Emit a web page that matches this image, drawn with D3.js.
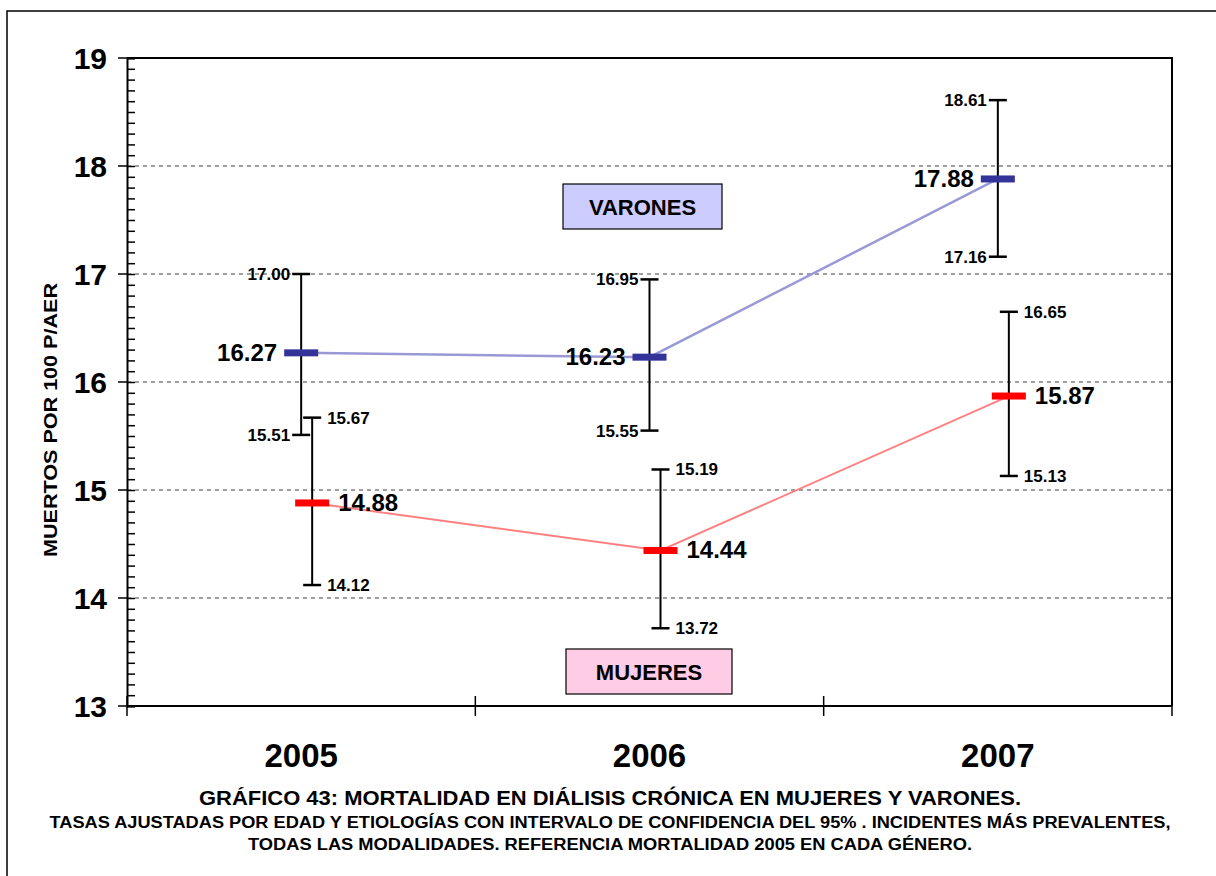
<!DOCTYPE html>
<html>
<head>
<meta charset="utf-8">
<script src="https://cdn.jsdelivr.net/npm/d3@7"></script>
<style>
  body { margin: 0; background: #fff; }
  text { font-family: "Liberation Sans", Arial, sans-serif; font-weight: bold; }
</style>
</head>
<body>
<div id="chart"></div>
<script>
const years = ['2005', '2006', '2007']
const varones = [16.27, 16.23, 17.88]
const varonesLow = [15.51, 15.55, 17.16]
const varonesHigh = [17.00, 16.95, 18.61]
const mujeres = [14.88, 14.44, 15.87]
const mujeresLow = [14.12, 13.72, 15.13]
const mujeresHigh = [15.67, 15.19, 16.65]
const yTicks = [13, 14, 15, 16, 17, 18, 19]
const titleLines = [
  'GRÁFICO 43: MORTALIDAD EN DIÁLISIS CRÓNICA EN MUJERES Y VARONES.',
  'TASAS AJUSTADAS POR EDAD Y ETIOLOGÍAS  CON INTERVALO DE CONFIDENCIA DEL 95% . INCIDENTES MÁS PREVALENTES,',
  'TODAS LAS MODALIDADES. REFERENCIA MORTALIDAD 2005 EN CADA GÉNERO.'
]

const W = 1216, H = 876
const plot = {left: 127, right: 1172, top: 58, bottom: 706}

const svg = d3.select('#chart').append('svg')
  .attr('width', W)
  .attr('height', H)

// outer frame
svg.append('rect')
  .attr('x', 7).attr('y', 11)
  .attr('width', 1240).attr('height', 900)
  .attr('fill', 'none')
  .attr('stroke', '#000')
  .attr('stroke-width', 1.5)

const x = d3.scaleBand().domain(years).range([plot.left, plot.right]).padding(0)
const y = d3.scaleLinear().domain([13, 19]).range([plot.bottom, plot.top])
const cx = d => x(d) + x.bandwidth() / 2
const offM = 11

// gridlines
svg.append('g')
  .selectAll('line')
  .data(yTicks.slice(1, -1))
  .enter()
  .append('line')
  .attr('x1', plot.left).attr('x2', plot.right)
  .attr('y1', d => y(d)).attr('y2', d => y(d))
  .attr('stroke', '#808080')
  .attr('stroke-width', 1.5)
  .attr('stroke-dasharray', '4,4')

// plot border top/right
svg.append('path')
  .attr('d', `M${plot.left},${plot.top}H${plot.right}V${plot.bottom}`)
  .attr('fill', 'none')
  .attr('stroke', '#000')
  .attr('stroke-width', 2)

// y axis
const yAxis = svg.append('g').attr('transform', `translate(${plot.left},0)`)
yAxis.call(d3.axisRight(y).ticks(60).tickSize(8).tickFormat(''))
yAxis.select('.domain').attr('stroke-width', 2)
yAxis.selectAll('.tick line').attr('stroke-width', 1.5)
yAxis.append('g')
  .selectAll('line')
  .data(yTicks)
  .enter()
  .append('line')
  .attr('x1', -9).attr('x2', 0)
  .attr('y1', d => y(d)).attr('y2', d => y(d))
  .attr('stroke', '#000')
  .attr('stroke-width', 1.5)
svg.append('g')
  .selectAll('text')
  .data(yTicks)
  .enter()
  .append('text')
  .attr('x', 107)
  .attr('y', d => y(d) + 11)
  .attr('text-anchor', 'end')
  .style('font-size', '30px')
  .text(d => d)

// x axis
svg.append('line')
  .attr('x1', plot.left).attr('x2', plot.right)
  .attr('y1', plot.bottom).attr('y2', plot.bottom)
  .attr('stroke', '#000').attr('stroke-width', 2)
svg.append('g')
  .selectAll('line')
  .data(years.map(d => x(d)).concat([plot.right]))
  .enter()
  .append('line')
  .attr('x1', d => d).attr('x2', d => d)
  .attr('y1', plot.bottom - 10).attr('y2', plot.bottom + 10)
  .attr('stroke', '#000').attr('stroke-width', 1.5)
svg.append('g')
  .selectAll('text')
  .data(years)
  .enter()
  .append('text')
  .attr('x', d => cx(d))
  .attr('y', 767)
  .attr('text-anchor', 'middle')
  .style('font-size', '33px')
  .text(d => d)

// y label
svg.append('text')
  .attr('transform', 'translate(57,420) rotate(-90)')
  .attr('text-anchor', 'middle')
  .attr('textLength', 274)
  .attr('lengthAdjust', 'spacingAndGlyphs')
  .style('font-size', '18px')
  .text('MUERTOS POR 100 P/AER')

// series boxes
const boxes = [
  {label: 'VARONES', x: 563, y: 184, w: 159, h: 45, fill: '#ccccff'},
  {label: 'MUJERES', x: 566, y: 649, w: 166, h: 45, fill: '#ffcce5'}
]
boxes.forEach(b => {
  svg.append('rect')
    .attr('x', b.x).attr('y', b.y).attr('width', b.w).attr('height', b.h)
    .attr('fill', b.fill).attr('stroke', '#000').attr('stroke-width', 1.2)
  svg.append('text')
    .attr('x', b.x + b.w / 2).attr('y', b.y + b.h / 2 + 8)
    .attr('text-anchor', 'middle')
    .style('font-size', '22px')
    .text(b.label)
})

// series
const series = [
  {vals: varones, low: varonesLow, high: varonesHigh, off: 0, line: '#9999d6', lw: 2.5, mark: '#333399', side: -1},
  {vals: mujeres, low: mujeresLow, high: mujeresHigh, off: offM, line: '#ff8080', lw: 2, mark: '#ff0000', side: 1}
]

series.forEach(s => {
  const pts = years.map((d, i) => ({x: cx(d) + s.off, v: s.vals[i], lo: s.low[i], hi: s.high[i]}))

  svg.append('path')
    .datum(pts)
    .attr('d', d3.line().x(d => d.x).y(d => y(d.v)))
    .attr('fill', 'none')
    .attr('stroke', s.line)
    .attr('stroke-width', s.lw)

  const g = svg.append('g')
  g.selectAll('line.v')
    .data(pts).enter().append('line')
    .attr('x1', d => d.x).attr('x2', d => d.x)
    .attr('y1', d => y(d.lo)).attr('y2', d => y(d.hi))
    .attr('stroke', '#000').attr('stroke-width', 2)
  ;['lo', 'hi'].forEach(k => {
    g.selectAll('line.' + k)
      .data(pts).enter().append('line')
      .attr('x1', d => d.x - 9).attr('x2', d => d.x + 9)
      .attr('y1', d => y(d[k])).attr('y2', d => y(d[k]))
      .attr('stroke', '#000').attr('stroke-width', 2.5)
    g.selectAll('text.' + k)
      .data(pts).enter().append('text')
      .attr('x', d => d.x + (s.side < 0 ? -11 : 15))
      .attr('y', d => y(d[k]) + 6)
      .attr('text-anchor', s.side < 0 ? 'end' : 'start')
      .style('font-size', '17px')
      .text(d => d[k].toFixed(2))
  })

  g.selectAll('rect')
    .data(pts).enter().append('rect')
    .attr('x', d => d.x - 17).attr('y', d => y(d.v) - 3.5)
    .attr('width', 34).attr('height', 7)
    .attr('fill', s.mark)

  g.selectAll('text.val')
    .data(pts).enter().append('text')
    .attr('x', d => d.x + (s.side < 0 ? -24 : 26))
    .attr('y', d => y(d.v) + 8)
    .attr('text-anchor', s.side < 0 ? 'end' : 'start')
    .style('font-size', '24px')
    .text(d => d.v.toFixed(2))
})

// title
const titleSizes = [20, 16, 16]
const titleY = [805, 828, 850]
const titleLen = [822, 1121, 724]
svg.append('g')
  .selectAll('text')
  .data(titleLines)
  .enter()
  .append('text')
  .attr('x', 610)
  .attr('y', (d, i) => titleY[i])
  .attr('text-anchor', 'middle')
  .attr('textLength', (d, i) => titleLen[i])
  .attr('lengthAdjust', 'spacingAndGlyphs')
  .style('font-size', (d, i) => titleSizes[i] + 'px')
  .text(d => d)
</script>
</body>
</html>
